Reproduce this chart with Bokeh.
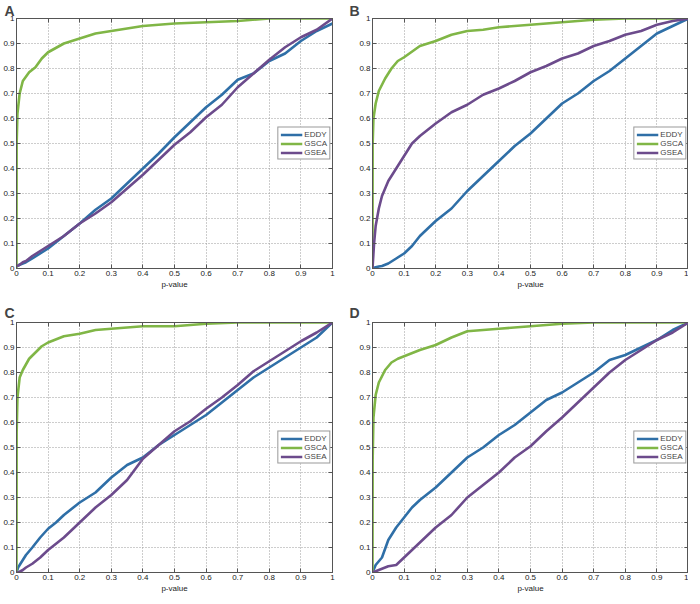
from bokeh.plotting import figure
from bokeh.layouts import column, row
from bokeh.models import Range1d, FixedTicker, CustomJSTickFormatter, LinearAxis
from bokeh.embed import file_html
from bokeh.resources import INLINE

# common p-value grid for EDDY / GSEA curves
X = [0, 0.005, 0.01, 0.02, 0.03, 0.05, 0.075, 0.1, 0.125, 0.15, 0.2, 0.25, 0.3, 0.35,
     0.4, 0.45, 0.5, 0.55, 0.6, 0.65, 0.7, 0.75, 0.8, 0.85, 0.9, 0.95, 1.0]
# denser grid near zero for GSCA curves
XG = [0, 0.0005, 0.003, 0.01, 0.02, 0.04, 0.06, 0.08, 0.1, 0.15, 0.2, 0.25, 0.3, 0.35,
      0.4, 0.5, 0.6, 0.7, 0.8, 0.9, 1.0]

A_EDDY = [0.01, 0.012, 0.015, 0.02, 0.025, 0.04, 0.06, 0.08, 0.105, 0.13, 0.18, 0.235, 0.28, 0.34,
          0.40, 0.46, 0.525, 0.585, 0.645, 0.695, 0.755, 0.78, 0.83, 0.86, 0.91, 0.95, 0.98]
A_GSEA = [0.01, 0.012, 0.015, 0.025, 0.03, 0.05, 0.07, 0.09, 0.11, 0.13, 0.18, 0.22, 0.265, 0.32,
          0.375, 0.435, 0.495, 0.545, 0.605, 0.655, 0.725, 0.78, 0.835, 0.885, 0.925, 0.955, 1.0]
A_GSCA = [0, 0.5, 0.62, 0.70, 0.75, 0.785, 0.805, 0.84, 0.865, 0.90, 0.92, 0.94, 0.95, 0.96,
          0.97, 0.98, 0.985, 0.99, 1.0, 1.0, 1.0]

B_EDDY = [0, 0.003, 0.005, 0.008, 0.01, 0.02, 0.04, 0.06, 0.09, 0.13, 0.19, 0.24, 0.31, 0.37,
          0.43, 0.49, 0.54, 0.60, 0.66, 0.70, 0.75, 0.79, 0.84, 0.89, 0.94, 0.97, 1.0]
B_GSEA = [0, 0.1, 0.17, 0.24, 0.29, 0.35, 0.40, 0.45, 0.50, 0.53, 0.58, 0.625, 0.655, 0.695,
          0.72, 0.75, 0.785, 0.81, 0.84, 0.86, 0.89, 0.91, 0.935, 0.95, 0.975, 0.99, 1.0]
B_GSCA = [0, 0.5, 0.6, 0.66, 0.71, 0.76, 0.80, 0.83, 0.845, 0.89, 0.91, 0.935, 0.95, 0.955,
          0.965, 0.975, 0.985, 0.995, 1.0, 1.0, 1.0]

C_EDDY = [0, 0.02, 0.03, 0.05, 0.07, 0.10, 0.14, 0.175, 0.20, 0.23, 0.28, 0.32, 0.38, 0.43,
          0.46, 0.51, 0.55, 0.59, 0.63, 0.68, 0.73, 0.78, 0.82, 0.86, 0.90, 0.94, 1.0]
C_GSEA = [0, 0.0, 0.003, 0.01, 0.02, 0.035, 0.06, 0.09, 0.115, 0.14, 0.20, 0.26, 0.31, 0.37,
          0.455, 0.51, 0.565, 0.605, 0.655, 0.70, 0.75, 0.805, 0.845, 0.885, 0.925, 0.96, 1.0]
C_GSCA = [0, 0.56, 0.7, 0.78, 0.81, 0.855, 0.88, 0.905, 0.92, 0.945, 0.955, 0.97, 0.975, 0.98,
          0.985, 0.985, 0.995, 1.0, 1.0, 1.0, 1.0]

D_EDDY = [0, 0.015, 0.03, 0.045, 0.06, 0.13, 0.18, 0.22, 0.26, 0.29, 0.34, 0.40, 0.46, 0.50,
          0.55, 0.59, 0.64, 0.69, 0.72, 0.76, 0.80, 0.85, 0.87, 0.90, 0.93, 0.97, 1.0]
D_GSEA = [0, 0.003, 0.005, 0.01, 0.015, 0.025, 0.03, 0.06, 0.09, 0.12, 0.18, 0.23, 0.30, 0.35,
          0.40, 0.46, 0.505, 0.565, 0.62, 0.68, 0.74, 0.80, 0.85, 0.89, 0.93, 0.96, 1.0]
D_GSCA = [0, 0.45, 0.62, 0.71, 0.76, 0.81, 0.84, 0.855, 0.865, 0.89, 0.91, 0.94, 0.965, 0.97,
          0.975, 0.985, 0.995, 1.0, 1.0, 1.0, 1.0]

TICKS = [0, 0.1, 0.2, 0.3, 0.4, 0.5, 0.6, 0.7, 0.8, 0.9, 1]
PANELS = ["A", "B", "C", "D"]
SERIES = ["EDDY", "GSCA", "GSEA"]
COLORS = {"EDDY": "#2f6fa7", "GSCA": "#80b646", "GSEA": "#6c4b8c"}
FONT = "Liberation Sans"

DATA = {
    "A": (A_EDDY, A_GSCA, A_GSEA),
    "B": (B_EDDY, B_GSCA, B_GSEA),
    "C": (C_EDDY, C_GSCA, C_GSEA),
    "D": (D_EDDY, D_GSCA, D_GSEA),
}

AXC = "#555555"


def make_panel(name, left, top):
    p = figure(frame_width=316, frame_height=250,
               min_border_left=12 if left else 24,
               min_border_right=16 if left else 0,
               min_border_top=13 if top else 28,
               min_border_bottom=26 if top else 20,
               x_range=Range1d(0, 1), y_range=Range1d(0, 1),
               output_backend="svg", toolbar_location=None,
               title=name)
    p.title.text_font = FONT
    p.title.text_font_size = "14px"
    p.title.text_font_style = "bold"
    p.title.align = "left"
    p.title.offset = -12 if left else -23
    p.title.standoff = 0 if top else 3

    eddy, gsca, gsea = DATA[name]
    p.line(X, eddy, color=COLORS["EDDY"], line_width=2.6, legend_label="EDDY")
    p.line(XG, gsca, color=COLORS["GSCA"], line_width=2.6, legend_label="GSCA")
    p.line(X, gsea, color=COLORS["GSEA"], line_width=2.6, legend_label="GSEA")

    fmt = CustomJSTickFormatter(code="return Number(tick.toFixed(1)).toString();")
    for ax in (p.xaxis[0], p.yaxis[0]):
        ax.ticker = FixedTicker(ticks=TICKS)
        ax.formatter = fmt
        ax.major_tick_in = 4
        ax.major_tick_out = 0
        ax.minor_tick_line_color = None
        ax.axis_line_color = AXC
        ax.major_tick_line_color = AXC
        ax.major_label_text_font = FONT
        ax.major_label_text_font_size = "8px"
        ax.major_label_text_color = "#222222"
        ax.major_label_standoff = 2
    p.xaxis.axis_label = "p-value"
    p.xaxis.axis_label_text_font = FONT
    p.xaxis.axis_label_text_font_size = "8px"
    p.xaxis.axis_label_text_font_style = "normal"
    p.xaxis.axis_label_text_color = "#222222"
    p.xaxis.axis_label_standoff = 1

    blank = CustomJSTickFormatter(code="return '';")
    for loc in ("right", "above"):
        ax = LinearAxis(ticker=FixedTicker(ticks=TICKS), formatter=blank,
                        major_tick_in=4, major_tick_out=0,
                        minor_tick_line_color=None,
                        axis_line_color=AXC, major_tick_line_color=AXC,
                        major_label_text_font_size="1px", major_label_standoff=0)
        p.add_layout(ax, loc)

    p.outline_line_color = AXC
    for g in (p.xgrid[0], p.ygrid[0]):
        g.ticker = FixedTicker(ticks=TICKS)
        g.grid_line_color = "#9a9a9a"
        g.grid_line_dash = "1 2"
        g.grid_line_width = 1

    lg = p.legend[0]
    lg.location = "right"
    lg.label_text_font = FONT
    lg.label_text_font_size = "8px"
    lg.label_height = 8
    lg.glyph_height = 8
    lg.glyph_width = 22
    lg.spacing = 0
    lg.padding = 2
    lg.margin = 2
    lg.label_standoff = 2
    lg.border_line_color = "#333333"
    lg.border_line_width = 1
    lg.background_fill_alpha = 1
    return p


pa = make_panel("A", True, True)
pb = make_panel("B", False, True)
pc = make_panel("C", True, False)
pd_ = make_panel("D", False, False)

layout = column(row(pa, pb), row(pc, pd_))
open("out.html", "w").write(file_html(layout, INLINE))
